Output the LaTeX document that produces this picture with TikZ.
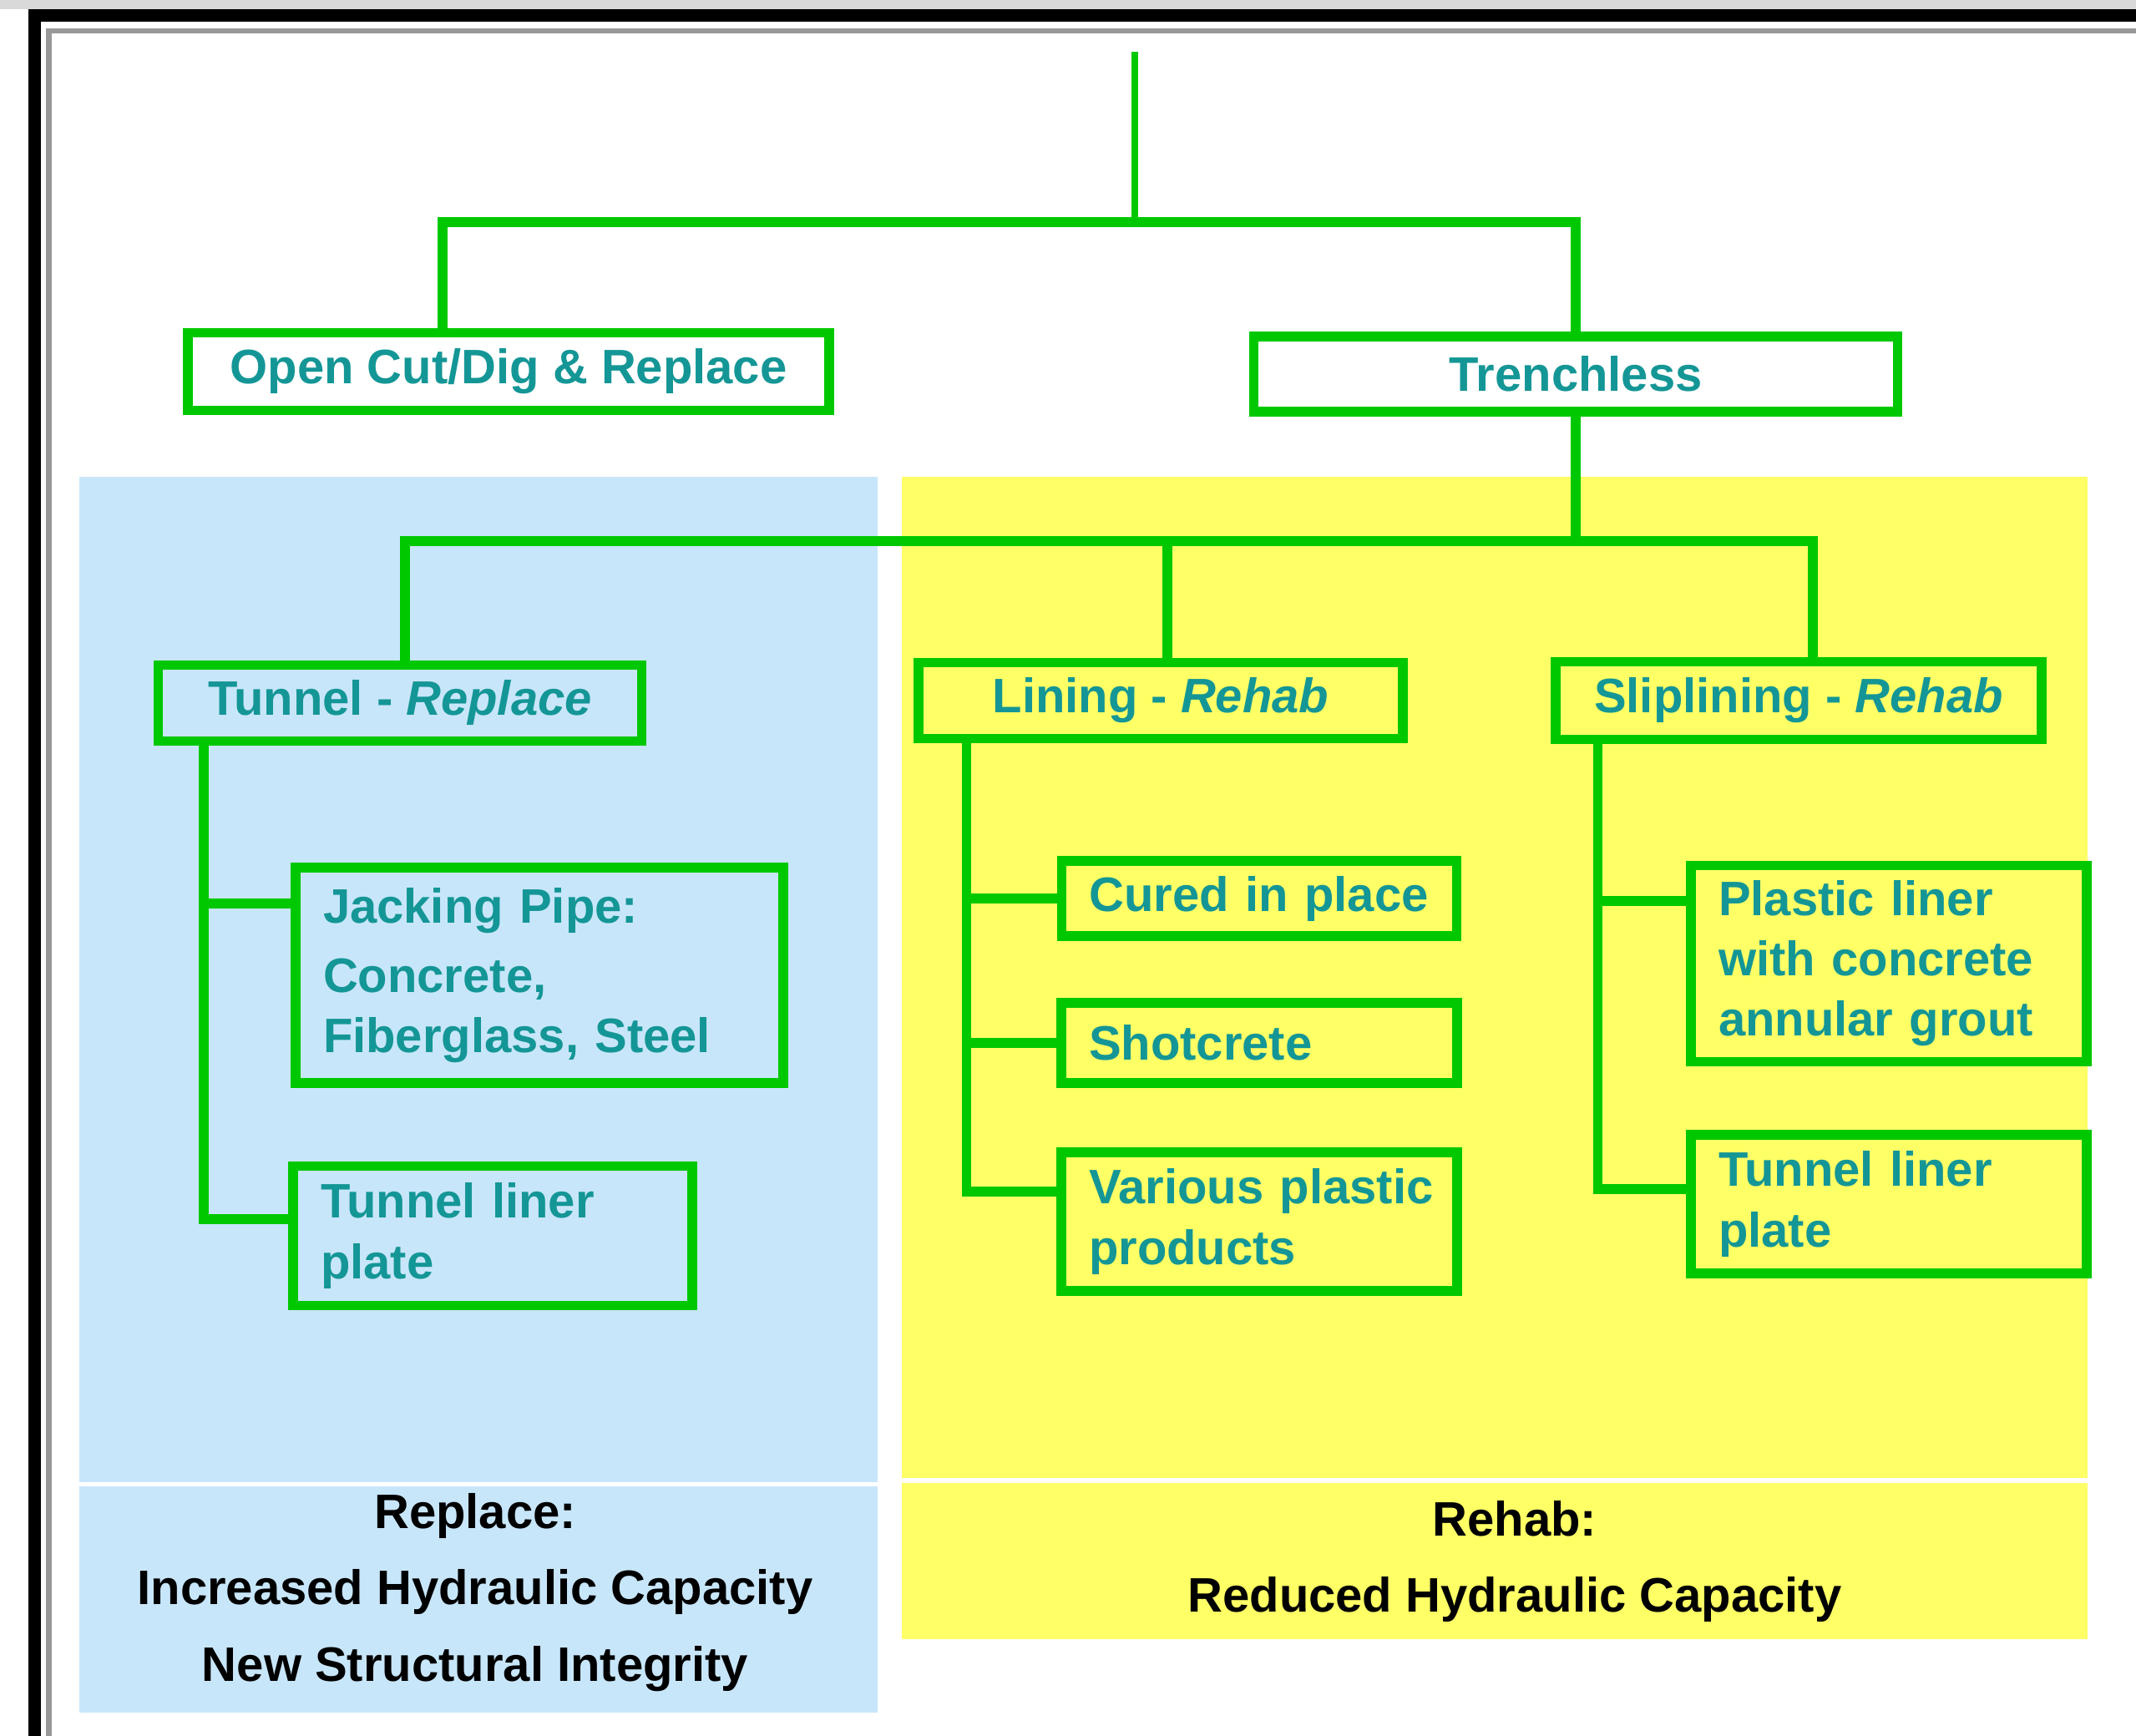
\documentclass[tikz,border=0pt]{standalone}
\usepackage{fontspec}
\setmainfont{Liberation Sans}
\usetikzlibrary{positioning}
\definecolor{linegreen}{RGB}{0,200,0}
\definecolor{tealtext}{RGB}{20,150,150}
\definecolor{replaceblue}{RGB}{200,230,250}
\definecolor{rehabyellow}{RGB}{255,255,102}
\hyphenpenalty=10000
\begin{document}
\begin{tikzpicture}[
			box/.style={draw=linegreen, line width=3.2pt, text=tealtext, inner xsep=0.33cm, inner ysep=0pt,
				font=\fontsize{16.5}{20.5}\selectfont\bfseries},
			headbox/.style={box, align=center},
			itembox/.style={box, align=left},
			link/.style={draw=linegreen, line width=3.2pt},
			rootlink/.style={draw=linegreen, line width=2.4pt},
			note/.style={align=center, font=\fontsize{16.5}{26}\selectfont\bfseries}
		]
		\useasboundingbox (0,0) rectangle (25.58,-20.79);
		\fill[white] (0,0) rectangle (25.58,-20.79);
		\fill[replaceblue] (0.95,-5.71) rectangle (10.51,-17.75);
		\fill[replaceblue] (0.95,-17.80) rectangle (10.51,-20.51);
		\fill[rehabyellow] (10.80,-5.71) rectangle (25.00,-17.70);
		\fill[rehabyellow] (10.80,-17.76) rectangle (25.00,-19.63);
		\fill[black!15] (0,0) rectangle (25.58,-0.11);
		\fill[black] (0.34,-0.11) rectangle (25.58,-0.26);
		\fill[black] (0.34,-0.11) rectangle (0.49,-20.79);
		\fill[black!40] (0.55,-0.34) rectangle (25.58,-0.40);
		\fill[black!40] (0.55,-0.34) rectangle (0.62,-20.79);

		\node[headbox, minimum width=7.68cm, minimum height=0.93cm] (open) at (6.09,-4.45) {Open Cut/Dig \& Replace};
		\node[headbox, minimum width=7.71cm, minimum height=0.90cm] (trench) at (18.87,-4.48) {Trenchless};
		\node[headbox, minimum width=5.79cm, minimum height=0.91cm] (tunnel) at (4.79,-8.42) {Tunnel - \textit{Replace}};
		\node[headbox, minimum width=5.80cm, minimum height=0.91cm] (lining) at (13.90,-8.39) {Lining - \textit{Rehab}};
		\node[headbox, minimum width=5.82cm, minimum height=0.93cm] (slip) at (21.54,-8.39) {Sliplining - \textit{Rehab}};

		\node[itembox, text width=5.18cm, minimum height=2.58cm] (jack) at (6.46,-11.68) {Jacking Pipe:\\[3pt] Concrete,\\ Fiberglass, Steel};
		\node[itembox, text width=4.12cm, minimum height=1.67cm] (tlpl) at (5.90,-14.80) {Tunnel liner\\ plate};
		\node[itembox, text width=4.07cm, minimum height=0.90cm] (cured) at (15.08,-10.76) {Cured in place};
		\node[itembox, text width=4.08cm, minimum height=0.96cm] (shot) at (15.08,-12.49) {Shotcrete};
		\node[itembox, text width=4.08cm, minimum height=1.66cm] (vari) at (15.08,-14.63) {\mbox{Various plastic}\\ products};
		\node[itembox, text width=4.08cm, minimum height=2.35cm] (plast) at (22.62,-11.54) {Plastic liner\\ with concrete\\ annular grout};
		\node[itembox, text width=4.08cm, minimum height=1.66cm] (tlpr) at (22.62,-14.42) {Tunnel liner\\ plate};

		\node[note] (replace) at (5.69,-19.07) {Replace:\\ Increased Hydraulic Capacity\\ New Structural Integrity};
		\node[note] (rehab) at (18.14,-18.70) {Rehab:\\ Reduced Hydraulic Capacity};

		\coordinate (top) at (13.59,-0.62);
		\coordinate (bar1) at (13.59,-2.66);
		\coordinate (bar2) at (18.87,-6.48);
		\draw[rootlink] (top) -- (bar1);
		\draw[link] ([xshift=-0.79cm]open.north) |- (bar1) -| (trench.north);
		\draw[link] (trench.south) -- (bar2);
		\draw[link] ([xshift=0.06cm]tunnel.north) |- (bar2) -| ([xshift=0.17cm]slip.north);
		\draw[link] ([xshift=0.08cm]lining.north) -- ([xshift=0.08cm]lining.north |- bar2);

		\draw[link] ([xshift=0.6cm]tunnel.south west) |- ([yshift=0.86cm]jack.west);
		\draw[link] ([xshift=0.6cm]tunnel.south west) |- ([yshift=0.2cm]tlpl.west);
		\draw[link] ([xshift=0.63cm]lining.south west) |- (cured.west);
		\draw[link] ([xshift=0.63cm]lining.south west) |- (shot.west);
		\draw[link] ([xshift=0.63cm]lining.south west) |- ([yshift=0.36cm]vari.west);
		\draw[link] ([xshift=0.56cm]slip.south west) |- ([yshift=0.75cm]plast.west);
		\draw[link] ([xshift=0.56cm]slip.south west) |- ([yshift=0.18cm]tlpr.west);
	\end{tikzpicture}
\end{document}
